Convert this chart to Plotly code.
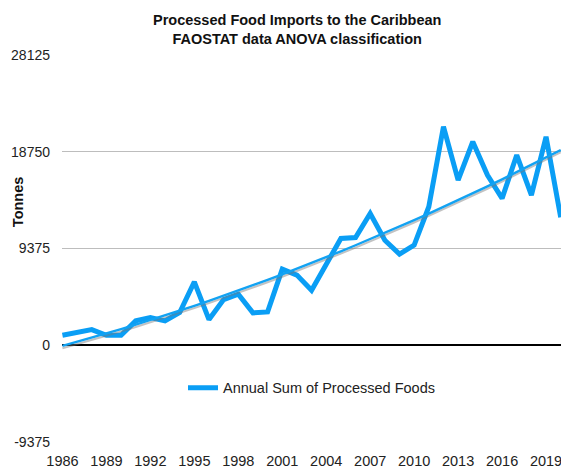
import numpy as np
import plotly.graph_objects as go

years = list(range(1986, 2021))
imports_tonnes = [970, 1290, 1520, 970, 970, 2360, 2680, 2360, 3170, 6140,
                  2490, 4430, 4950, 3140, 3230, 7380, 6800, 5330, 7860, 10350,
                  10440, 12770, 10180, 8830, 9700, 13420, 21180, 16000, 19720, 16490,
                  14230, 18430, 14550, 20200, 12400]
y_ticks = [-9375, 0, 9375, 18750, 28125]
x_ticks = list(range(1986, 2020, 3))

# polynomial (2nd order) trend line through the series
coef = np.polyfit(years, imports_tonnes, 2)
trend = np.polyval(coef, years)

BLUE = "#0A9EF5"
FONT = "Liberation Sans, Arial, Helvetica, sans-serif"

fig = go.Figure()
fig.add_trace(go.Scatter(x=years, y=imports_tonnes, mode="lines",
                         name="Annual Sum of Processed Foods",
                         line=dict(color=BLUE, width=5), cliponaxis=True))
# soft shadow under the trend line
fig.add_trace(go.Scatter(x=years, y=trend - 230, mode="lines", showlegend=False,
                         line=dict(color="rgba(120,120,120,0.45)", width=2),
                         hoverinfo="skip"))
fig.add_trace(go.Scatter(x=years, y=trend, mode="lines", showlegend=False,
                         line=dict(color="#12A2F2", width=2.4)))

fig.update_layout(
    width=561, height=471,
    margin=dict(l=62, r=0, t=55, b=29),
    paper_bgcolor="white", plot_bgcolor="white",
    font=dict(family=FONT, size=14, color="#222"),
    showlegend=True,
    legend=dict(orientation="h", x=0.5, xanchor="center", y=0.14, yanchor="middle",
                font=dict(family=FONT, size=14.5, color="#222"),
                bgcolor="rgba(0,0,0,0)", itemwidth=30),
    xaxis=dict(range=[1985.97, 2020.02], tickvals=x_ticks, ticktext=[str(v) for v in x_ticks],
               showgrid=False, zeroline=False, showline=False, ticks="",
               tickfont=dict(size=14.5, color="#222"), ticklabelstandoff=8,
               ticklabeloverflow="allow"),
    yaxis=dict(range=[-9375, 28125], tickvals=y_ticks, ticktext=[str(v) for v in y_ticks],
               showgrid=True, gridcolor="#BDBDBD", gridwidth=1.2,
               zeroline=True, zerolinecolor="#000", zerolinewidth=1.5,
               showline=False, ticks="", tickfont=dict(size=14, color="#222"),
               ticklabelstandoff=11),
    annotations=[
        dict(text="<b>Processed Food Imports to the Caribbean<br>FAOSTAT data ANOVA classification</b>",
             xref="paper", yref="paper", x=0.47, y=1.066, xanchor="center", yanchor="middle",
             showarrow=False, align="center",
             font=dict(family=FONT, size=14.5, color="#111")),
        dict(text="<b>Tonnes</b>", textangle=-90, xref="paper", yref="paper",
             x=-0.088, y=0.62, xanchor="center", yanchor="middle", showarrow=False,
             font=dict(family=FONT, size=14.5, color="#111")),
    ],
)

fig.write_html("out.html")
